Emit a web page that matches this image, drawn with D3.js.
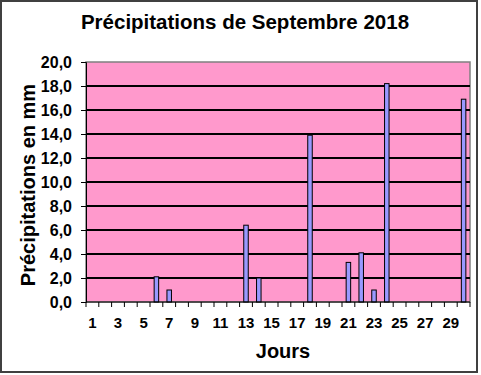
<!DOCTYPE html>
<html>
<head>
<meta charset="utf-8">
<script src="https://cdn.jsdelivr.net/npm/d3@7"></script>
<style>
  body { margin: 0; background: #fff; }
  svg text { font-family: "Liberation Sans", Arial, sans-serif; font-weight: bold; fill: #000; }
</style>
</head>
<body>
<div id="graf"></div>
<script>
// données
jours = d3.range(1, 31)
pluie = [0, 0, 0, 0, 0, 2.1, 1.0, 0, 0, 0, 0, 0, 6.4, 2.0, 0, 0, 0, 13.9, 0, 0,
         3.3, 4.1, 1.0, 18.2, 0, 0, 0, 0, 0, 16.9]
yTicks = [0, 2, 4, 6, 8, 10, 12, 14, 16, 18, 20]
xLabels = [1, 3, 5, 7, 9, 11, 13, 15, 17, 19, 21, 23, 25, 27, 29]

titre = 'Précipitations de Septembre 2018'
titreY = 'Précipitations en mm'
titreX = 'Jours'

// configuration
anchoTotal = 481
altoTotal = 375
margins = { top: 62, left: 86, right: 11, bottom: 73 }
ancho = anchoTotal - margins.left - margins.right
alto = altoTotal - margins.top - margins.bottom

svg = d3.select('#graf').append('svg')
  .attr('width', anchoTotal)
  .attr('height', altoTotal)

// cadre extérieur
svg.append('rect')
  .attr('x', 1).attr('y', 1)
  .attr('width', 476).attr('height', 371)
  .attr('fill', '#fff')
  .attr('stroke', '#404040')
  .attr('stroke-width', 2)

g = svg.append('g')
  .attr('transform', `translate(${margins.left}, ${margins.top})`)

y = d3.scaleLinear().domain([0, 20]).range([alto, 0])
x = d3.scaleBand().domain(jours).range([0, ancho])

// fond
g.append('rect')
  .attr('width', ancho).attr('height', alto)
  .attr('fill', '#ff99cc')
  .attr('stroke', '#808080')
  .attr('stroke-width', 1.5)

// grille
g.selectAll('.grille')
  .data(yTicks.filter(d => d > 0 && d < 20))
  .enter().append('line')
    .attr('x1', 0).attr('x2', ancho)
    .attr('y1', d => y(d)).attr('y2', d => y(d))
    .attr('stroke', '#000')
    .attr('stroke-width', 2)

// barres
bw = 4.5
g.selectAll('.barre')
  .data(jours.map((j, i) => ({ jour: j, val: pluie[i] })).filter(d => d.val > 0))
  .enter().append('rect')
    .attr('x', d => x(d.jour) + x.bandwidth() / 2 - bw / 2)
    .attr('y', d => y(d.val))
    .attr('width', bw)
    .attr('height', d => alto - y(d.val))
    .attr('fill', '#9999ff')
    .attr('stroke', '#000')
    .attr('stroke-width', 1)

// axe Y
yAxis = d3.axisLeft(y)
  .tickValues(yTicks)
  .tickSize(5)
  .tickPadding(9)
  .tickFormat(d => d3.format('.1f')(d).replace('.', ','))
yAxisGroup = g.append('g').call(yAxis)
yAxisGroup.select('.domain').attr('stroke', '#000')
yAxisGroup.selectAll('text').style('font-size', '16px')

// axe X (graduations entre les catégories)
xAxisGroup = g.append('g').attr('transform', `translate(0, ${alto})`)
xAxisGroup.append('line')
  .attr('x1', 0).attr('x2', ancho)
  .attr('stroke', '#000')
xAxisGroup.selectAll('.grad')
  .data(d3.range(0, jours.length + 1))
  .enter().append('line')
    .attr('x1', i => i * x.step()).attr('x2', i => i * x.step())
    .attr('y1', 0).attr('y2', 5)
    .attr('stroke', '#000')
xAxisGroup.selectAll('.etiq')
  .data(xLabels)
  .enter().append('text')
    .attr('x', d => x(d) + x.bandwidth() / 2)
    .attr('y', 26)
    .attr('text-anchor', 'middle')
    .style('font-size', '15px')
    .text(d => d)

// titres
svg.append('text')
  .attr('x', 245).attr('y', 29)
  .attr('text-anchor', 'middle')
  .style('font-size', '20.5px')
  .text(titre)

svg.append('text')
  .attr('x', 283).attr('y', 358)
  .attr('text-anchor', 'middle')
  .style('font-size', '20px')
  .text(titreX)

svg.append('text')
  .attr('transform', 'translate(35, 185) rotate(-90)')
  .attr('text-anchor', 'middle')
  .style('font-size', '20px')
  .text(titreY)
</script>
</body>
</html>
